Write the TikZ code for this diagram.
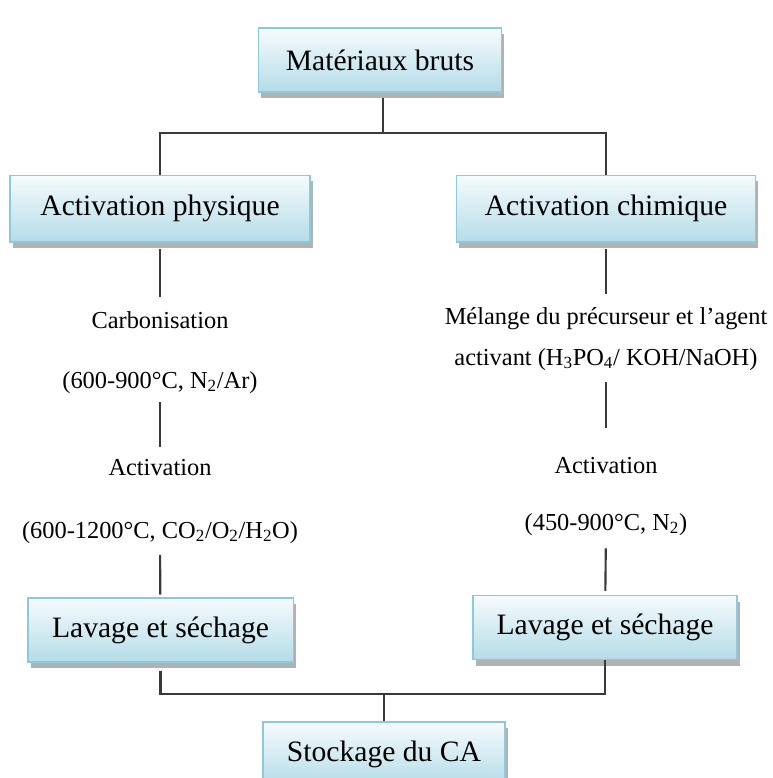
\documentclass[tikz,border=0pt]{standalone}
\usepackage{fontspec}
\setmainfont{Liberation Serif}
\usetikzlibrary{shadows}
\definecolor{boxtop}{HTML}{F6FBFD}
\definecolor{boxbot}{HTML}{B4DCE8}
\definecolor{boxline}{HTML}{8CC9DA}
\definecolor{linkcol}{HTML}{3A3A3A}
\begin{document}
\begin{tikzpicture}[x=0.75pt, y=-0.75pt,
    etape/.style={rectangle, draw=boxline, line width=1pt, top color=boxtop, bottom color=boxbot,
      drop shadow={shadow xshift=2pt, shadow yshift=-4.5pt, fill=black!30, opacity=1},
      font=\fontsize{22.2}{26}\selectfont, minimum height=48pt},
    note/.style={inner sep=2pt, text height=0.7em, text depth=0.25em, font=\fontsize{18.3}{22}\selectfont},
    lien/.style={draw=linkcol, line width=1.6pt}]
    \clip (0,0) rectangle (772,778);
    \fill[white] (0,0) rectangle (772,778);
    \node[etape, minimum width=182pt] (brut) at (380,60) {Matériaux bruts};
    \node[etape, minimum width=225pt, minimum height=50pt] (phys) at (160,208.5) {Activation physique};
    \node[etape, minimum width=224pt, minimum height=50pt] (chim) at (606,208.5) {Activation chimique};
    \node[etape, minimum width=199pt] (lavL) at (160.5,630) {Lavage et séchage};
    \node[etape, minimum width=198pt] (lavR) at (605,627.5) {Lavage et séchage};
    \node[etape, minimum width=181.5pt] (stock) at (384,754) {Stockage du CA};
    % voie physique
    \node[note] (carb) at (160,325) {Carbonisation};
    \node[note] (carbT) at (160,385) {(600-900°C, N\textsubscript{2}/Ar)};
    \node[note] (actP) at (160,472) {Activation};
    \node[note] (actPT) at (160,535) {(600-1200°C, CO\textsubscript{2}/O\textsubscript{2}/H\textsubscript{2}O)};
    % voie chimique
    \node[note] (mel) at (606,321) {Mélange du précurseur et l’agent};
    \node[note] (melb) at (606,362) {activant (H\textsubscript{3}PO\textsubscript{4}/ KOH/NaOH)};
    \node[note] (actC) at (606,470) {Activation};
    \node[note] (actCT) at (606,527) {(450-900°C, N\textsubscript{2})};
    % liaisons
    \coordinate (topbar) at (383,133);
    \coordinate (botbar) at (384,694);
    \draw[lien, shorten <=4pt] (brut.south -| topbar) -- (topbar);
    \draw[lien] (phys.north) |- (topbar) -| (chim.north);
    \draw[lien, shorten <=5pt, shorten >=14pt] (phys) -- (carb);
    \draw[lien, shorten <=6pt, shorten >=12pt] (carbT) -- (actP);
    \draw[lien, shorten <=8pt, shorten >=2pt] (actPT) -- (lavL);
    \draw[lien, shorten <=5pt, shorten >=13pt] (chim) -- (mel);
    \draw[lien, shorten <=8pt, shorten >=24.5pt] (melb) -- (actC);
    \draw[lien, shorten <=9pt, shorten >=3pt] (actCT) -- (lavR);
    \draw[lien] (lavL.south) ++(0,8) |- (botbar) -| (lavR.south);
    \draw[lien] (stock.north) -- (stock.north |- botbar);
  \end{tikzpicture}
\end{document}
